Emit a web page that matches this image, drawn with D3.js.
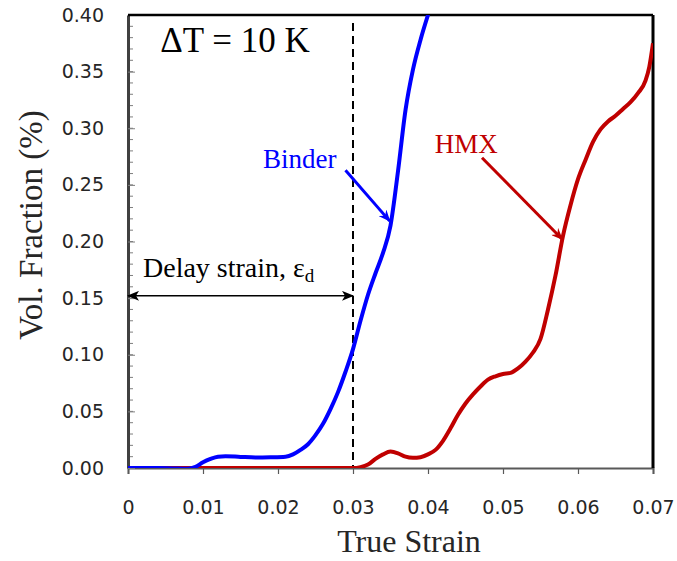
<!DOCTYPE html>
<html>
<head>
<meta charset="utf-8">
<script src="https://cdn.jsdelivr.net/npm/d3@7"></script>
<style>
  body { margin: 0; background: #fff; }
  svg { display: block; }
</style>
</head>
<body>
<script>
// axis ticks
const xTicks = [0, 0.01, 0.02, 0.03, 0.04, 0.05, 0.06, 0.07];
const yTicks = [0, 0.05, 0.10, 0.15, 0.20, 0.25, 0.30, 0.35, 0.40];

// Binder curve (true strain, vol. fraction)
const binderStrain = [0, 0.004, 0.006, 0.008, 0.009, 0.010, 0.011, 0.012, 0.013, 0.015, 0.017, 0.019, 0.021, 0.022, 0.023, 0.024, 0.025, 0.026, 0.027, 0.028, 0.029, 0.030, 0.031, 0.032, 0.033, 0.034, 0.035, 0.036, 0.037, 0.038, 0.039, 0.040, 0.041];
const binderFrac   = [0, 0.000, -0.0004, -0.0007, 0.001, 0.005, 0.008, 0.0100, 0.0104, 0.0098, 0.0093, 0.0095, 0.0100, 0.012, 0.016, 0.021, 0.029, 0.039, 0.052, 0.067, 0.085, 0.105, 0.130, 0.153, 0.172, 0.190, 0.214, 0.262, 0.316, 0.352, 0.378, 0.400, 0.42];

// HMX curve
const hmxStrain = [0, 0.030, 0.031, 0.032, 0.033, 0.034, 0.035, 0.036, 0.037, 0.038, 0.039, 0.040, 0.041, 0.042, 0.043, 0.044, 0.045, 0.046, 0.047, 0.048, 0.049, 0.050, 0.051, 0.052, 0.053, 0.054, 0.055, 0.056, 0.057, 0.058, 0.059, 0.060, 0.061, 0.062, 0.063, 0.064, 0.065, 0.066, 0.067, 0.068, 0.069, 0.0695, 0.070];
const hmxFrac   = [0, 0.000, 0.0008, 0.003, 0.008, 0.012, 0.0145, 0.013, 0.010, 0.009, 0.0095, 0.012, 0.016, 0.024, 0.035, 0.047, 0.057, 0.065, 0.072, 0.078, 0.081, 0.083, 0.084, 0.088, 0.094, 0.102, 0.114, 0.140, 0.170, 0.205, 0.232, 0.255, 0.272, 0.288, 0.299, 0.306, 0.311, 0.317, 0.323, 0.331, 0.342, 0.354, 0.375];

const delayStrain = 0.03;

const svgWid = 677, svgHt = 561;
const margin = {top: 15, right: 24, bottom: 93, left: 128};
const innerW = svgWid - margin.left - margin.right;
const innerH = svgHt - margin.top - margin.bottom;

const svg = d3.select('body').append('svg').attr('width', svgWid).attr('height', svgHt);

const xScale = d3.scaleLinear().domain([0, 0.07]).range([0, innerW]);
const yScale = d3.scaleLinear().domain([0, 0.40]).range([innerH, 0]);

const defs = svg.append('defs');
defs.append('clipPath').attr('id', 'plotClip')
  .append('rect').attr('x', 0).attr('y', 0).attr('width', innerW).attr('height', innerH);

function marker(id, color, open) {
  const m = defs.append('marker').attr('id', id)
    .attr('viewBox', '0 0 12 10').attr('refX', 11).attr('refY', 5)
    .attr('markerWidth', 12).attr('markerHeight', 10)
    .attr('markerUnits', 'userSpaceOnUse').attr('orient', 'auto-start-reverse');
  m.append('path').attr('d', open ? 'M0,0 L12,5 L0,10 L4,5 Z' : 'M0,0 L12,5 L0,10 L3,5 Z').attr('fill', color);
}
marker('arrBlue', '#0000ff', true);
marker('arrRed', '#c00000', true);
marker('arrBlack', '#000', false);

const g = svg.append('g').attr('transform', `translate(${margin.left},${margin.top})`);

// x axis
const xAxis = d3.axisBottom(xScale).tickValues(xTicks).tickFormat(d => d === 0 ? '0' : d3.format('.2f')(d)).tickSize(6).tickPadding(27);
const xAxisG = g.append('g').attr('transform', `translate(0,${innerH})`).call(xAxis);
xAxisG.select('.domain').attr('stroke', '#595959').attr('stroke-width', 2);
xAxisG.selectAll('.tick line').attr('stroke', '#595959').attr('stroke-width', 1.2);
xAxisG.selectAll('.tick text').attr('font-family', 'DejaVu Sans').attr('font-size', '19px').attr('fill', '#262626');

// y axis: minor ticks inside
const minorY = d3.range(0, 0.4001, 0.01);
g.append('g').selectAll('line').data(minorY).enter().append('line')
  .attr('x1', 0).attr('x2', 5)
  .attr('y1', d => yScale(d)).attr('y2', d => yScale(d))
  .attr('stroke', '#7f7f7f').attr('stroke-width', 1);

const yAxis = d3.axisLeft(yScale).tickValues(yTicks).tickFormat(d3.format('.2f')).tickSizeInner(-7).tickSizeOuter(0).tickPadding(24);
const yAxisG = g.append('g').call(yAxis);
yAxisG.select('.domain').attr('stroke', '#404040').attr('stroke-width', 3);
yAxisG.selectAll('.tick line').attr('stroke', '#7f7f7f').attr('stroke-width', 1);
yAxisG.selectAll('.tick text').attr('font-family', 'DejaVu Sans').attr('font-size', '19px').attr('fill', '#262626');

// top and right border
g.append('line').attr('x1', 0).attr('x2', innerW).attr('y1', 0).attr('y2', 0).attr('stroke', '#000').attr('stroke-width', 2.5);
g.append('line').attr('x1', innerW).attr('x2', innerW).attr('y1', 0).attr('y2', innerH).attr('stroke', '#000').attr('stroke-width', 3);

// axis titles
svg.append('text').text('True Strain')
  .attr('x', 409).attr('y', 552)
  .attr('text-anchor', 'middle').attr('font-family', 'Liberation Serif').attr('font-size', '32px').attr('fill', '#262626');
svg.append('text').text('Vol. Fraction (%)')
  .attr('transform', `translate(42,225) rotate(-90)`)
  .attr('text-anchor', 'middle').attr('font-family', 'Liberation Serif').attr('font-size', '33px').attr('fill', '#262626');

// dashed delay line
g.append('line')
  .attr('x1', xScale(delayStrain)).attr('x2', xScale(delayStrain))
  .attr('y1', yScale(0.393)).attr('y2', innerH)
  .attr('stroke', '#000').attr('stroke-width', 2).attr('stroke-dasharray', '8,5');

// curves
const line = d3.line().x(d => xScale(d[0])).y(d => yScale(d[1])).curve(d3.curveMonotoneX);
const plot = g.append('g').attr('clip-path', 'url(#plotClip)');
plot.append('path').datum(hmxStrain.map((s, i) => [s, hmxFrac[i]]))
  .attr('d', line).attr('fill', 'none').attr('stroke', '#c00000').attr('stroke-width', 4);
plot.append('path').datum(binderStrain.map((s, i) => [s, binderFrac[i]]))
  .attr('d', line).attr('fill', 'none').attr('stroke', '#0000ff').attr('stroke-width', 4);

// annotations
g.append('text').text('ΔT = 10 K')
  .attr('x', xScale(0.0043)).attr('y', yScale(0.3675))
  .attr('font-family', 'Liberation Serif').attr('font-size', '35px').attr('fill', '#000');

g.append('text').text('Binder')
  .attr('x', xScale(0.0180)).attr('y', yScale(0.265))
  .attr('font-family', 'Liberation Serif').attr('font-size', '27px').attr('fill', '#0000ff');
g.append('line')
  .attr('x1', xScale(0.0290)).attr('y1', yScale(0.263))
  .attr('x2', xScale(0.0349)).attr('y2', yScale(0.218))
  .attr('stroke', '#0000ff').attr('stroke-width', 3).attr('marker-end', 'url(#arrBlue)');

g.append('text').text('HMX')
  .attr('x', xScale(0.0409)).attr('y', yScale(0.278))
  .attr('font-family', 'Liberation Serif').attr('font-size', '27px').attr('fill', '#c00000');
g.append('line')
  .attr('x1', xScale(0.0472)).attr('y1', yScale(0.274))
  .attr('x2', xScale(0.0579)).attr('y2', yScale(0.202))
  .attr('stroke', '#c00000').attr('stroke-width', 3).attr('marker-end', 'url(#arrRed)');

const delayT = g.append('text')
  .attr('x', xScale(0.002)).attr('y', yScale(0.1685))
  .attr('font-family', 'Liberation Serif').attr('font-size', '28px').attr('fill', '#000');
delayT.append('tspan').text('Delay strain, ε');
delayT.append('tspan').text('d').attr('font-size', '19px').attr('dy', 5);

g.append('line')
  .attr('x1', xScale(0)).attr('y1', yScale(0.152))
  .attr('x2', xScale(delayStrain)).attr('y2', yScale(0.152))
  .attr('stroke', '#000').attr('stroke-width', 1.5)
  .attr('marker-start', 'url(#arrBlack)').attr('marker-end', 'url(#arrBlack)');
</script>
</body>
</html>
